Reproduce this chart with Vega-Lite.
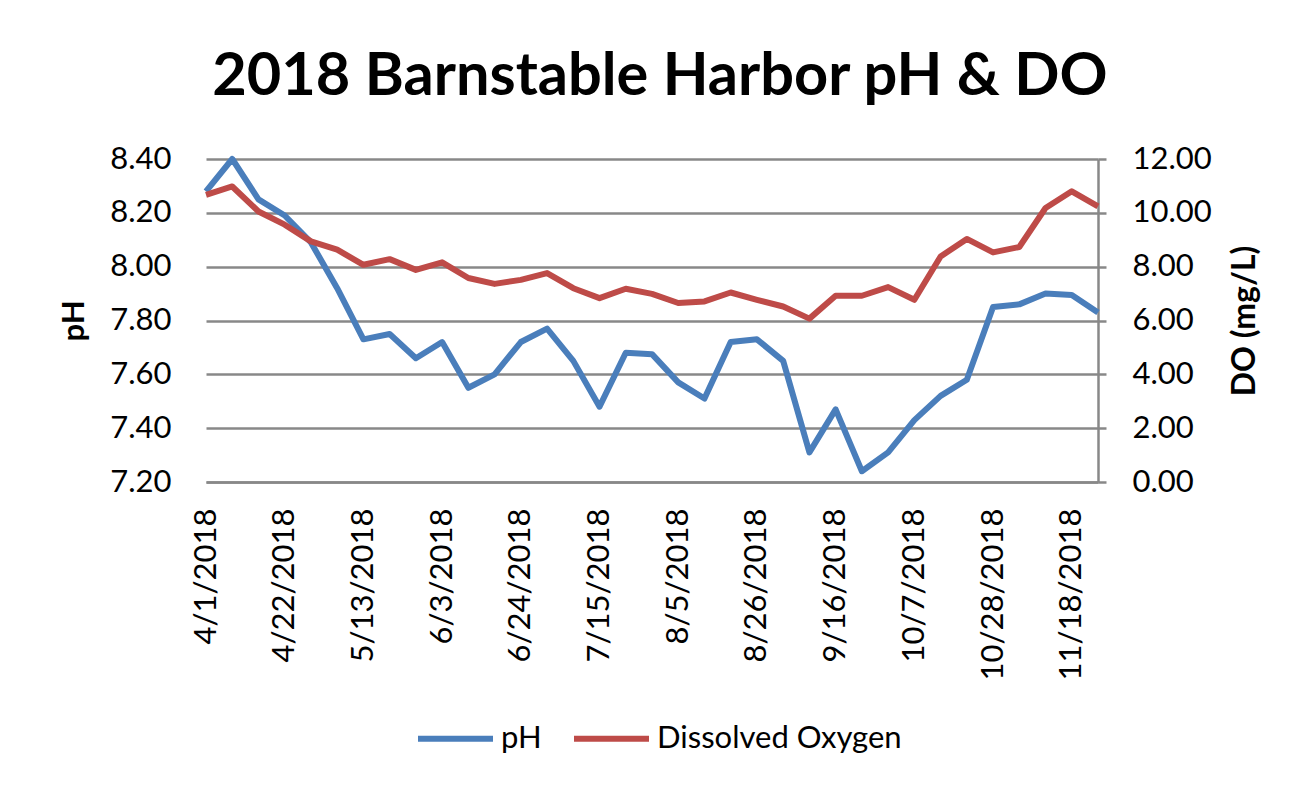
{
  "$schema": "https://vega.github.io/schema/vega-lite/v6.json",
  "width": 892,
  "height": 323,
  "autosize": {"type": "none"},
  "padding": {"left": 206, "top": 159, "right": 216, "bottom": 305},
  "background": "white",
  "title": {"text": "2018 Barnstable Harbor pH & DO", "fontSize": 59.5, "font": "Lato", "fontWeight": "bold", "color": "black", "anchor": "middle", "offset": 36, "dx": 8},
  "data": {"values": [
    {"date": "2018-04-01", "pH": 8.28, "DO": 10.67},
    {"date": "2018-04-08", "pH": 8.40, "DO": 10.98},
    {"date": "2018-04-15", "pH": 8.25, "DO": 10.05},
    {"date": "2018-04-22", "pH": 8.19, "DO": 9.56},
    {"date": "2018-04-29", "pH": 8.09, "DO": 8.94},
    {"date": "2018-05-06", "pH": 7.92, "DO": 8.63},
    {"date": "2018-05-13", "pH": 7.73, "DO": 8.07},
    {"date": "2018-05-20", "pH": 7.75, "DO": 8.28},
    {"date": "2018-05-27", "pH": 7.66, "DO": 7.88},
    {"date": "2018-06-03", "pH": 7.72, "DO": 8.16},
    {"date": "2018-06-10", "pH": 7.55, "DO": 7.58},
    {"date": "2018-06-17", "pH": 7.60, "DO": 7.36},
    {"date": "2018-06-24", "pH": 7.72, "DO": 7.51},
    {"date": "2018-07-01", "pH": 7.77, "DO": 7.76},
    {"date": "2018-07-08", "pH": 7.65, "DO": 7.20},
    {"date": "2018-07-15", "pH": 7.48, "DO": 6.83},
    {"date": "2018-07-22", "pH": 7.68, "DO": 7.18},
    {"date": "2018-07-29", "pH": 7.675, "DO": 6.99},
    {"date": "2018-08-05", "pH": 7.57, "DO": 6.65},
    {"date": "2018-08-12", "pH": 7.51, "DO": 6.71},
    {"date": "2018-08-19", "pH": 7.72, "DO": 7.04},
    {"date": "2018-08-26", "pH": 7.73, "DO": 6.77},
    {"date": "2018-09-02", "pH": 7.65, "DO": 6.52},
    {"date": "2018-09-09", "pH": 7.31, "DO": 6.07},
    {"date": "2018-09-16", "pH": 7.47, "DO": 6.92},
    {"date": "2018-09-23", "pH": 7.24, "DO": 6.92},
    {"date": "2018-09-30", "pH": 7.31, "DO": 7.24},
    {"date": "2018-10-07", "pH": 7.43, "DO": 6.77},
    {"date": "2018-10-14", "pH": 7.52, "DO": 8.38},
    {"date": "2018-10-21", "pH": 7.58, "DO": 9.03},
    {"date": "2018-10-28", "pH": 7.85, "DO": 8.53},
    {"date": "2018-11-04", "pH": 7.86, "DO": 8.73},
    {"date": "2018-11-11", "pH": 7.90, "DO": 10.18},
    {"date": "2018-11-18", "pH": 7.895, "DO": 10.80},
    {"date": "2018-11-25", "pH": 7.83, "DO": 10.24}
  ]},
  "encoding": {
    "x": {
      "field": "date",
      "type": "temporal",
      "scale": {"type": "utc"},
      "axis": {
        "title": null,
        "format": "%-m/%-d/%Y",
        "values": [
          {"year": 2018, "month": 4, "date": 1, "utc": true},
          {"year": 2018, "month": 4, "date": 22, "utc": true},
          {"year": 2018, "month": 5, "date": 13, "utc": true},
          {"year": 2018, "month": 6, "date": 3, "utc": true},
          {"year": 2018, "month": 6, "date": 24, "utc": true},
          {"year": 2018, "month": 7, "date": 15, "utc": true},
          {"year": 2018, "month": 8, "date": 5, "utc": true},
          {"year": 2018, "month": 8, "date": 26, "utc": true},
          {"year": 2018, "month": 9, "date": 16, "utc": true},
          {"year": 2018, "month": 10, "date": 7, "utc": true},
          {"year": 2018, "month": 10, "date": 28, "utc": true},
          {"year": 2018, "month": 11, "date": 18, "utc": true}
        ],
        "labelAngle": 270,
        "labelFontSize": 31,
        "labelPadding": 26,
        "labelOverlap": false,
        "labelFlush": false,
        "labelLimit": 400,
        "ticks": false,
        "grid": false,
        "domain": true,
        "domainColor": "#888888",
        "domainWidth": 2.5
      }
    }
  },
  "layer": [
    {
      "mark": {"type": "line", "strokeWidth": 6, "strokeJoin": "round", "strokeCap": "butt"},
      "encoding": {
        "y": {
          "field": "pH",
          "type": "quantitative",
          "scale": {"domain": [7.2, 8.4], "zero": false, "nice": false},
          "axis": {
            "orient": "left",
            "title": "pH",
            "values": [7.2, 7.4, 7.6, 7.8, 8.0, 8.2, 8.4],
            "format": ".2f",
            "grid": true,
            "gridColor": "#888888",
            "gridWidth": 2.5,
            "ticks": false,
            "domain": false,
            "labelFontSize": 31,
            "labelPadding": 35,
            "titleFontSize": 31,
            "titlePadding": 19
          }
        },
        "color": {
          "datum": "pH",
          "type": "nominal",
          "scale": {"domain": ["pH", "Dissolved Oxygen"], "range": ["#4A7EBB", "#BE4B48"]},
          "legend": {
            "title": null,
            "orient": "none",
            "legendX": 209,
            "legendY": 539,
            "direction": "horizontal",
            "symbolType": "stroke",
            "symbolStrokeWidth": 6,
            "symbolSize": 5625,
            "labelFontSize": 31,
            "labelLimit": 500,
            "labelOffset": 5,
            "columnPadding": 20
          }
        }
      }
    },
    {
      "mark": {"type": "line", "strokeWidth": 6, "strokeJoin": "round", "strokeCap": "butt"},
      "encoding": {
        "y": {
          "field": "DO",
          "type": "quantitative",
          "scale": {"domain": [0, 12], "nice": false},
          "axis": {
            "orient": "right",
            "title": "DO (mg/L)",
            "titleAngle": 270,
            "values": [0, 2, 4, 6, 8, 10, 12],
            "format": ".2f",
            "grid": false,
            "ticks": true,
            "tickSize": 8,
            "tickWidth": 2.5,
            "tickColor": "#888888",
            "domain": true,
            "domainColor": "#888888",
            "domainWidth": 2.5,
            "labelFontSize": 31,
            "labelPadding": 26,
            "titleFontSize": 32,
            "titlePadding": 50
          }
        },
        "color": {"datum": "Dissolved Oxygen", "type": "nominal"}
      }
    }
  ],
  "resolve": {"scale": {"y": "independent"}},
  "config": {
    "font": "Lato",
    "view": {"stroke": null},
    "axis": {"labelColor": "#000000", "titleColor": "#000000", "labelFont": "Lato", "titleFont": "Lato", "titleFontWeight": "bold"},
    "legend": {"labelColor": "#000000", "labelFont": "Lato"}
  }
}
